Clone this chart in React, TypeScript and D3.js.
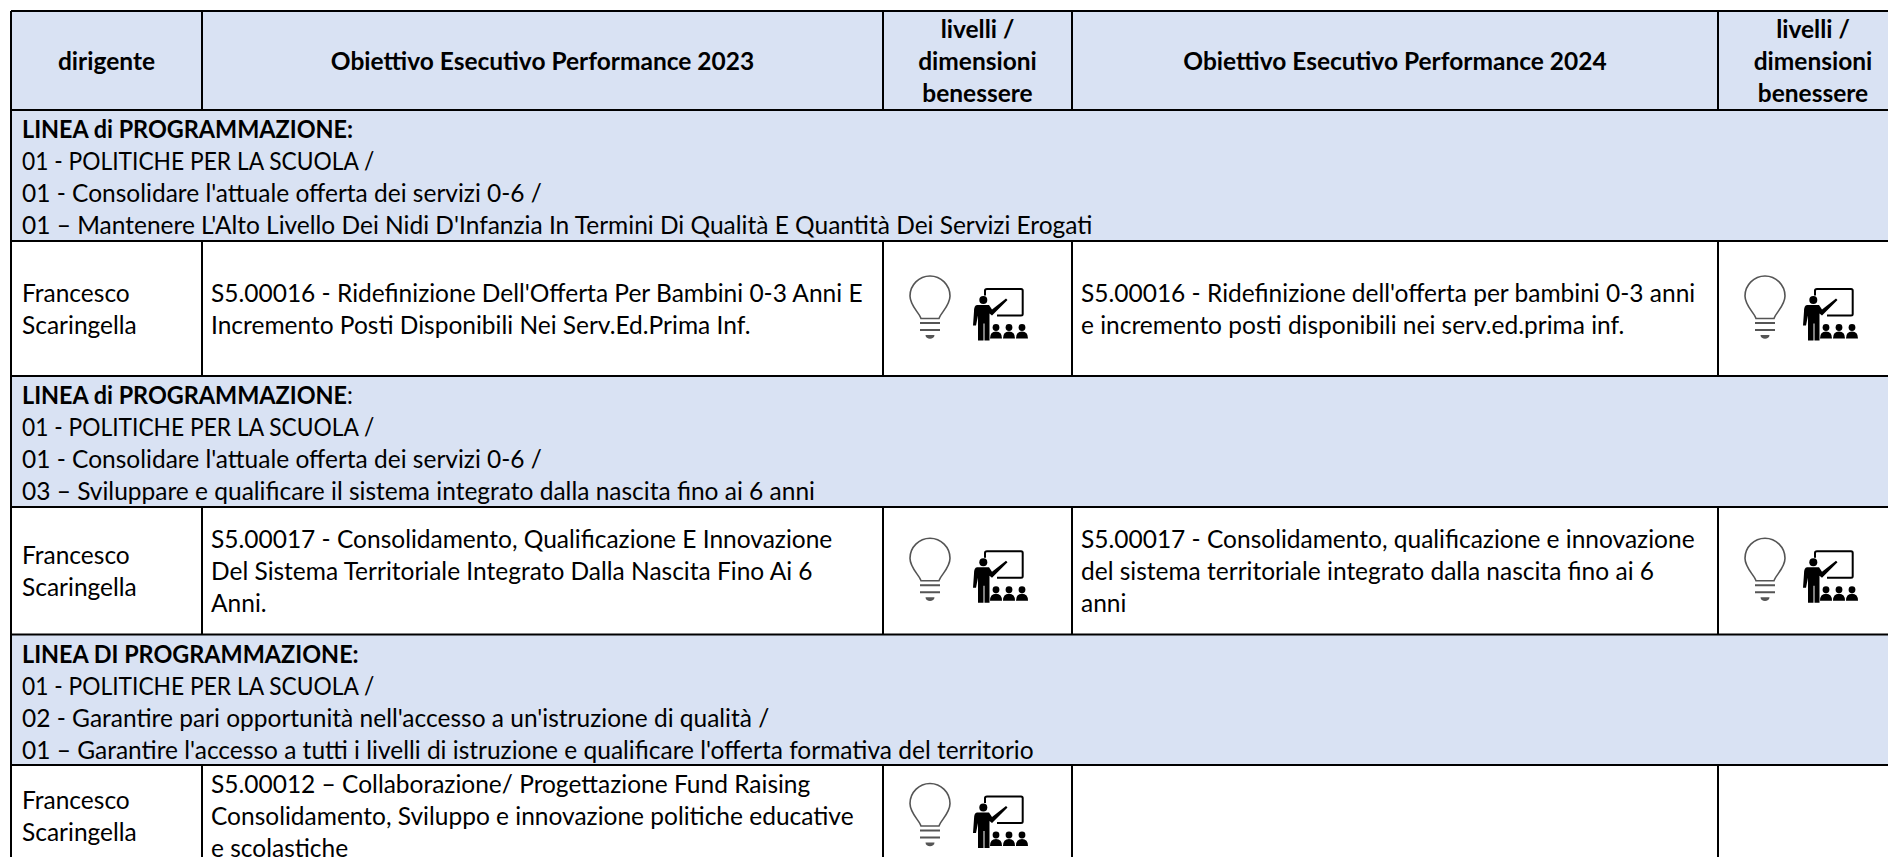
import * as d3 from 'd3';
import React, { useEffect, useRef } from 'react';

const W = 1888, H = 857;

// table content
const columnKeys = ['dirigente', 'ob2023', 'liv2023', 'ob2024', 'liv2024'];
const columnEdges = [11, 202, 883, 1072, 1718, 1908];
const headerLabels = [
  ['dirigente'],
  ['Obiettivo Esecutivo Performance 2023'],
  ['livelli /', 'dimensioni', 'benessere'],
  ['Obiettivo Esecutivo Performance 2024'],
  ['livelli /', 'dimensioni', 'benessere'],
];
const rowKeys = ['header', 'band1', 'row1', 'band2', 'row2', 'band3', 'row3'];
const rowEdges = [11, 110, 241, 376, 507, 634.5, 765, 867];

const band1Title = [{ t: 'LINEA di PROGRAMMAZIONE:', b: true }];
const band2Title = [{ t: 'LINEA di PROGRAMMAZIONE', b: true }, { t: ':', b: false }];
const band3Title = [{ t: 'LINEA DI PROGRAMMAZIONE:', b: true }];
const band1Lines = [
  '01 - POLITICHE PER LA SCUOLA /',
  "01 - Consolidare l'attuale offerta dei servizi 0-6 /",
  "01 \u2013 Mantenere L'Alto Livello Dei Nidi D'Infanzia In Termini Di Qualit\u00e0 E Quantit\u00e0 Dei Servizi Erogati",
];
const band2Lines = [
  '01 - POLITICHE PER LA SCUOLA /',
  "01 - Consolidare l'attuale offerta dei servizi 0-6 /",
  '03 \u2013 Sviluppare e qualificare il sistema integrato dalla nascita fino ai 6 anni',
];
const band3Lines = [
  '01 - POLITICHE PER LA SCUOLA /',
  "02 - Garantire pari opportunit\u00e0 nell'accesso a un'istruzione di qualit\u00e0 /",
  "01 \u2013 Garantire l'accesso a tutti i livelli di istruzione e qualificare l'offerta formativa del territorio",
];
const dirigente = ['Francesco', 'Scaringella'];
const row1Ob2023 = ["S5.00016 - Ridefinizione Dell'Offerta Per Bambini 0-3 Anni E", 'Incremento Posti Disponibili Nei Serv.Ed.Prima Inf.'];
const row1Ob2024 = ["S5.00016 - Ridefinizione dell'offerta per bambini 0-3 anni", 'e incremento posti disponibili nei serv.ed.prima inf.'];
const row2Ob2023 = ['S5.00017 - Consolidamento, Qualificazione E Innovazione', 'Del Sistema Territoriale Integrato Dalla Nascita Fino Ai 6', 'Anni.'];
const row2Ob2024 = ['S5.00017 - Consolidamento, qualificazione e innovazione', 'del sistema territoriale integrato dalla nascita fino ai 6', 'anni'];
const row3Ob2023 = ['S5.00012 \u2013 Collaborazione/ Progettazione Fund Raising', 'Consolidamento, Sviluppo e innovazione politiche educative', 'e scolastiche'];
const row3Ob2024: string[] = [];

const bands = [
  { key: 'band1', title: band1Title, lines: band1Lines },
  { key: 'band2', title: band2Title, lines: band2Lines },
  { key: 'band3', title: band3Title, lines: band3Lines },
];
const rows = [
  { key: 'row1', ob23: row1Ob2023, ob24: row1Ob2024, icons24: true },
  { key: 'row2', ob23: row2Ob2023, ob24: row2Ob2024, icons24: true },
  { key: 'row3', ob23: row3Ob2023, ob24: row3Ob2024, icons24: false },
];

const FONT = 'Lato, Carlito, Calibri, sans-serif';
const FS = 24.5;
const LH = 32;
const BAND_FILL = '#D9E2F3';

// Lato capitals run wider than the original font, squeeze the all-caps lines
const squeeze = (sel: any, k: number) =>
  sel.each(function (this: any) {
    this.setAttribute('textLength', this.getComputedTextLength() * k);
    this.setAttribute('lengthAdjust', 'spacingAndGlyphs');
  });

export default function App() {
  const ref = useRef<SVGGElement>(null);

  useEffect(() => {
    document.body.style.margin = '0';
    const root = d3.select(ref.current);
    root.selectAll('*').remove();

    const colLeft = d3.scaleOrdinal<string, number>().domain(columnKeys).range(columnEdges.slice(0, -1));
    const colRight = d3.scaleOrdinal<string, number>().domain(columnKeys).range(columnEdges.slice(1));
    const rowTop = d3.scaleOrdinal<string, number>().domain(rowKeys).range(rowEdges.slice(0, -1));
    const rowBottom = d3.scaleOrdinal<string, number>().domain(rowKeys).range(rowEdges.slice(1));

    const g = root.append('g').attr('font-family', FONT).attr('font-size', FS).attr('fill', '#000');

    // shaded header and programme bands
    g.selectAll('rect.bg')
      .data(['header', 'band1', 'band2', 'band3'])
      .enter().append('rect')
      .attr('class', 'bg')
      .attr('x', colLeft('dirigente'))
      .attr('y', d => rowTop(d))
      .attr('width', W)
      .attr('height', d => rowBottom(d) - rowTop(d))
      .attr('fill', BAND_FILL);

    // header labels
    columnKeys.forEach((c, i) => {
      const lines = headerLabels[i];
      const cx = (colLeft(c) + colRight(c)) / 2;
      const cy = (rowTop('header') + rowBottom('header')) / 2;
      g.selectAll(null).data(lines).enter().append('text')
        .attr('x', cx)
        .attr('y', (d, j) => cy + (j - (lines.length - 1) / 2) * LH + 9)
        .attr('text-anchor', 'middle')
        .attr('font-weight', 700)
        .text(d => d);
    });

    const textX = (c: string) => colLeft(c) + (c === 'dirigente' ? 11 : 9);

    // programme bands
    bands.forEach(b => {
      const top = rowTop(b.key);
      const title = g.append('text').attr('x', textX('dirigente')).attr('y', top + 28);
      title.selectAll('tspan').data(b.title).enter().append('tspan')
        .attr('font-weight', d => (d.b ? 700 : 400))
        .text(d => d.t);
      squeeze(title, 0.955);
      const body = g.selectAll(null).data(b.lines).enter().append('text')
        .attr('x', textX('dirigente'))
        .attr('y', (d, j) => top + 28 + (j + 1) * LH)
        .text(d => d);
      squeeze(body.filter((d, j) => j === 0), 0.93);
    });

    const block = (col: string, key: string, lines: string[]) => {
      const cy = (rowTop(key) + rowBottom(key)) / 2;
      g.selectAll(null).data(lines).enter().append('text')
        .attr('x', textX(col))
        .attr('y', (d, j) => cy + (j - (lines.length - 1) / 2) * LH + 9)
        .text(d => d);
    };

    // icons sit at a fixed offset from the left of the level column
    const icons = (col: string, key: string) => {
      const cy = (rowTop(key) + rowBottom(key)) / 2;
      const a = g.append('g').attr('transform', `translate(${colLeft(col) + 47},${cy})`);
      a.append('use').attr('href', '#bulb');
      a.append('use').attr('href', '#teacher').attr('x', col === 'liv2023' ? 65 : 60);
    };

    rows.forEach(r => {
      block('dirigente', r.key, dirigente);
      block('ob2023', r.key, r.ob23);
      block('ob2024', r.key, r.ob24);
      icons('liv2023', r.key);
      if (r.icons24) icons('liv2024', r.key);
    });

    // grid lines
    const grid = root.append('g').attr('stroke', '#000').attr('stroke-width', 2);
    const yTop = rowTop('header');
    grid.selectAll('line.h')
      .data(rowEdges.slice(0, -1))
      .enter().append('line')
      .attr('class', 'h')
      .attr('x1', colLeft('dirigente')).attr('x2', W)
      .attr('y1', d => d).attr('y2', d => d);
    grid.append('line')
      .attr('x1', colLeft('dirigente')).attr('x2', colLeft('dirigente'))
      .attr('y1', yTop).attr('y2', H);
    ['header', 'row1', 'row2', 'row3'].forEach(key => {
      grid.selectAll(null).data(columnKeys.slice(1)).enter().append('line')
        .attr('x1', d => colLeft(d)).attr('x2', d => colLeft(d))
        .attr('y1', rowTop(key)).attr('y2', rowBottom(key));
    });
  }, []);

  return (
    <svg width={W} height={H} style={{ position: 'fixed', left: 0, top: 0, background: '#fff' }}>
      <defs>
        <g id="bulb">
          <path d="M-9,10 C-11,4 -20,-3 -20,-12.5 C-20,-23.5 -11,-32.5 0,-32.5 C11,-32.5 20,-23.5 20,-12.5 C20,-3 11,4 9,10 Z" fill="none" stroke="#555" strokeWidth="1.6" />
          <path d="M-10,14.5 H10 M-10,21.5 H10" fill="none" stroke="#555" strokeWidth="2" />
          <path d="M-4.5,26.5 H4.5 C4.5,31.5 -4.5,31.5 -4.5,26.5 Z" fill="#555" />
        </g>
        <g id="teacher" fill="#000">
          <path d="M-10,-13 V-18 Q-10,-19.5 -8,-19.5 H26 Q27.7,-19.5 27.7,-18 V5.5 Q27.7,7 26,7 H2" fill="none" stroke="#000" strokeWidth="2" />
          <circle cx="-11.7" cy="-8.5" r="4" />
          <path d="M-18,-3.5 H-6 L-3,1 L11,-10 L12.5,-8.5 L-3,7 L-5.5,5 V32 H-10.5 V15 H-11.5 V32 H-17 V7 L-19,17 H-22 L-21,3 Q-21,-3.5 -18,-3.5 Z" />
          <circle cx="1" cy="19" r="3.4" />
          <circle cx="14" cy="19" r="3.4" />
          <circle cx="27" cy="19" r="3.4" />
          <path d="M-5,30 Q-5,23 1,23 Q7,23 7,30 Z M8,30 Q8,23 14,23 Q20,23 20,30 Z M21,30 Q21,23 27,23 Q33,23 33,30 Z" />
        </g>
      </defs>
      <g ref={ref} />
    </svg>
  );
}
